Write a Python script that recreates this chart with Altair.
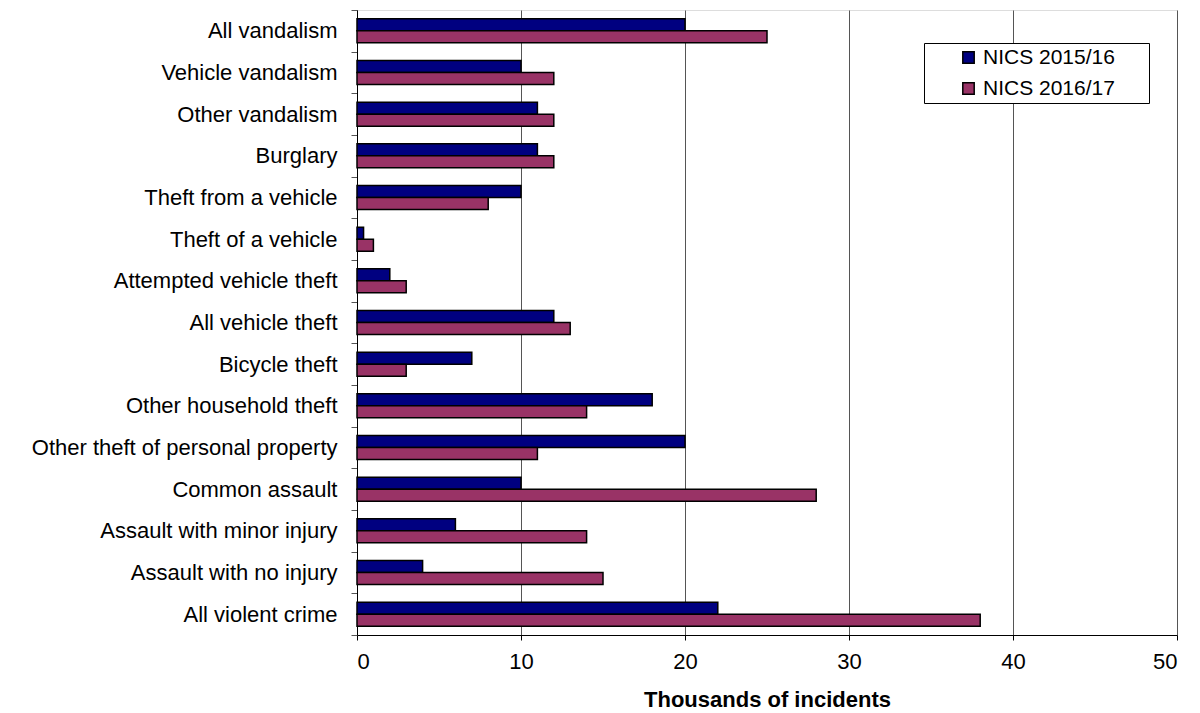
import altair as alt
import pandas as pd

categories = [
    "All vandalism", "Vehicle vandalism", "Other vandalism", "Burglary",
    "Theft from a vehicle", "Theft of a vehicle", "Attempted vehicle theft",
    "All vehicle theft", "Bicycle theft", "Other household theft",
    "Other theft of personal property", "Common assault",
    "Assault with minor injury", "Assault with no injury", "All violent crime",
]
v2015 = [20, 10, 11, 11, 10, 0.4, 2, 12, 7, 18, 20, 10, 6, 4, 22]
v2016 = [25, 12, 12, 12, 8, 1, 3, 13, 3, 14, 11, 28, 14, 15, 38]
series = ["NICS 2015/16", "NICS 2016/17"]
colors = ["#000080", "#993366"]

rows = []
for c, a, b in zip(categories, v2015, v2016):
    rows.append({"category": c, "series": series[0], "value": a})
    rows.append({"category": c, "series": series[1], "value": b})
df = pd.DataFrame(rows)

FONT = "Liberation Sans"

chart = alt.Chart(df).mark_bar(stroke="black", strokeWidth=1.5).encode(
    y=alt.Y("category:N", sort=categories, title=None,
            scale=alt.Scale(paddingInner=0, paddingOuter=0),
            axis=alt.Axis(tickBand="extent", labelFontSize=22, labelFont=FONT,
                          labelColor="black", labelPadding=14, tickSize=6,
                          labelLimit=0,
                          tickColor="#555555", domainColor="black", grid=False)),
    yOffset=alt.YOffset("series:N", sort=series,
                        scale=alt.Scale(paddingInner=0, paddingOuter=0.736)),
    x=alt.X("value:Q", title="Thousands of incidents",
            scale=alt.Scale(domain=[0, 50], nice=False),
            axis=alt.Axis(values=[0, 10, 20, 30, 40, 50], grid=True,
                          gridColor="#555555", gridWidth=1,
                          labelFontSize=22, labelFont=FONT, labelColor="black",
                          labelPadding=11, tickSize=5, tickColor="black",
                          domainColor="black", titleFont=FONT, titleFontSize=22,
                          titleFontWeight="bold", titleColor="black",
                          titlePadding=17)),
    color=alt.Color("series:N", sort=series,
                    scale=alt.Scale(domain=series, range=colors),
                    legend=alt.Legend(title=None, orient="none", legendX=567,
                                      legendY=33, symbolType="square",
                                      symbolSize=130, symbolStrokeColor="black",
                                      symbolStrokeWidth=1.5,
                                      labelFont=FONT, labelFontSize=21,
                                      labelColor="black", fillColor="white",
                                      strokeColor="black", padding=4,
                                      rowPadding=9, symbolOffset=30,
                                      labelOffset=4, labelLimit=0,
                                      labelExpr="datum.label + '\u00a0\u00a0\u00a0\u00a0\u00a0\u200b'")),
).properties(
    width=820, height=625,
    autosize=alt.AutoSizeParams(type="none"),
    padding={"left": 357, "top": 10, "right": 23, "bottom": 78},
).configure_view(stroke="#555555", strokeWidth=1).configure(background="white")

chart.save("out.html", embed_options={"renderer": "svg", "actions": False})
